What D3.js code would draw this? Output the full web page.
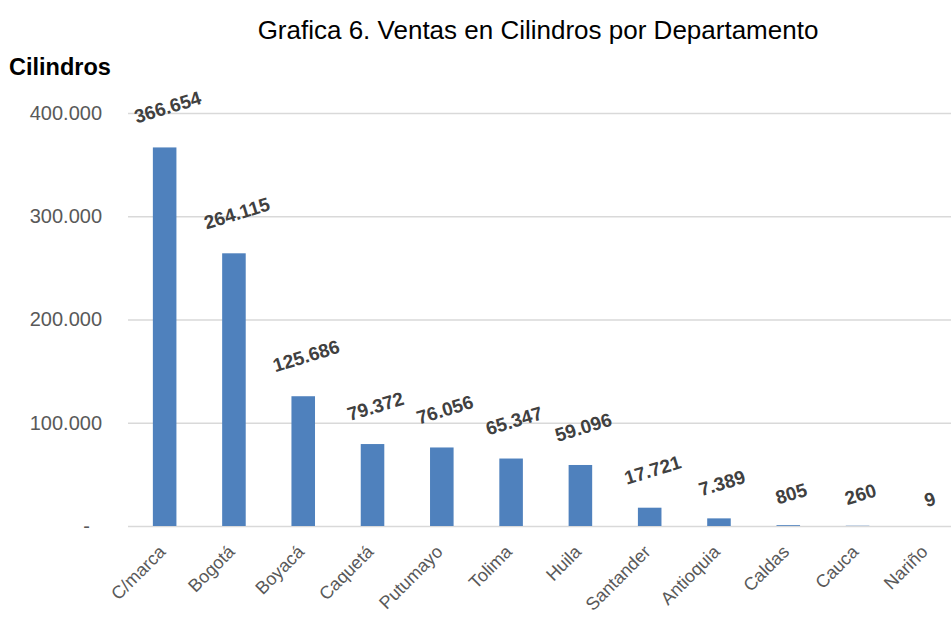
<!DOCTYPE html>
<html>
<head>
<meta charset="utf-8">
<script src="https://cdn.jsdelivr.net/npm/d3@7"></script>
<style>
  body { margin: 0; background: #fff; }
  text { font-family: Arial, "Liberation Sans", sans-serif; }
</style>
</head>
<body>
<svg width="951" height="618"></svg>
<script>
// Data
const departamentos = ["C/marca", "Bogotá", "Boyacá", "Caquetá", "Putumayo", "Tolima",
                       "Huila", "Santander", "Antioquia", "Caldas", "Cauca", "Nariño"];
const cilindros = [366654, 264115, 125686, 79372, 76056, 65347, 59096, 17721, 7389, 805, 260, 9];
const tickValues = [0, 100000, 200000, 300000, 400000];
const tickLabels = ["-", "100.000", "200.000", "300.000", "400.000"];

const svg = d3.select("svg");
const fmt = d3.formatLocale({decimal: ",", thousands: ".", grouping: [3], currency: ["$", ""]}).format(",d");

// Scales
const x = d3.scaleBand()
  .domain(departamentos)
  .range([130, 961.5])
  .paddingInner(0.66)
  .paddingOuter(0.33);

const y = d3.scaleLinear()
  .domain([0, 400000])
  .range([526, 113]);

// Title
svg.append("text")
  .attr("x", 538)
  .attr("y", 39)
  .attr("text-anchor", "middle")
  .style("font-size", "26px")
  .attr("fill", "#000")
  .text("Grafica 6. Ventas en Cilindros por Departamento");

svg.append("text")
  .attr("x", 9)
  .attr("y", 75)
  .style("font-size", "23.5px")
  .style("font-weight", "bold")
  .attr("fill", "#000")
  .text("Cilindros");

// Gridlines + y labels
const yAxis = d3.axisLeft(y)
  .tickValues(tickValues)
  .tickSize(-(951 - 128))
  .tickPadding(26)
  .tickFormat((d, i) => tickLabels[i]);

const gy = svg.append("g")
  .attr("transform", "translate(128,0)")
  .call(yAxis);
gy.select(".domain").remove();
gy.selectAll(".tick line").attr("stroke", "#d9d9d9").attr("stroke-width", 1.5);
gy.selectAll(".tick text")
  .attr("fill", "#595959")
  .style("font-size", "20px")
  .style("font-family", "Arial, 'Liberation Sans', sans-serif");
// the zero dash sits a bit further left, as in accounting format
gy.selectAll(".tick text").filter(d => d === 0).attr("dx", "-12");

// Bars
svg.selectAll("rect.bar")
  .data(cilindros)
  .enter()
  .append("rect")
  .attr("class", "bar")
  .attr("x", (d, i) => x(departamentos[i]))
  .attr("width", x.bandwidth())
  .attr("y", d => y(d))
  .attr("height", d => y(0) - y(d))
  .attr("fill", "#4f81bd");

// Value labels, rotated
const labels = svg.selectAll("text.val")
  .data(cilindros)
  .enter()
  .append("text")
  .attr("class", "val")
  .attr("text-anchor", "middle")
  .attr("dominant-baseline", "central")
  .style("font-size", "19px")
  .style("font-weight", "bold")
  .attr("fill", "#404040")
  .text(d => fmt(d));

labels.each(function(d, i){
  let w = this.getComputedTextLength();
  let cx = x(departamentos[i]) + x.bandwidth() / 2 + 3;
  let cy = y(d) - (24 + 0.235 * w);
  d3.select(this).attr("transform", `translate(${cx},${cy}) rotate(-17)`);
});

// Category labels
svg.selectAll("text.cat")
  .data(departamentos)
  .enter()
  .append("text")
  .attr("class", "cat")
  .attr("text-anchor", "end")
  .attr("transform", d => `translate(${x(d) + x.bandwidth() / 2 + 2},${553}) rotate(-45)`)
  .style("font-size", "18px")
  .attr("fill", "#595959")
  .text(d => d);
</script>
</body>
</html>
